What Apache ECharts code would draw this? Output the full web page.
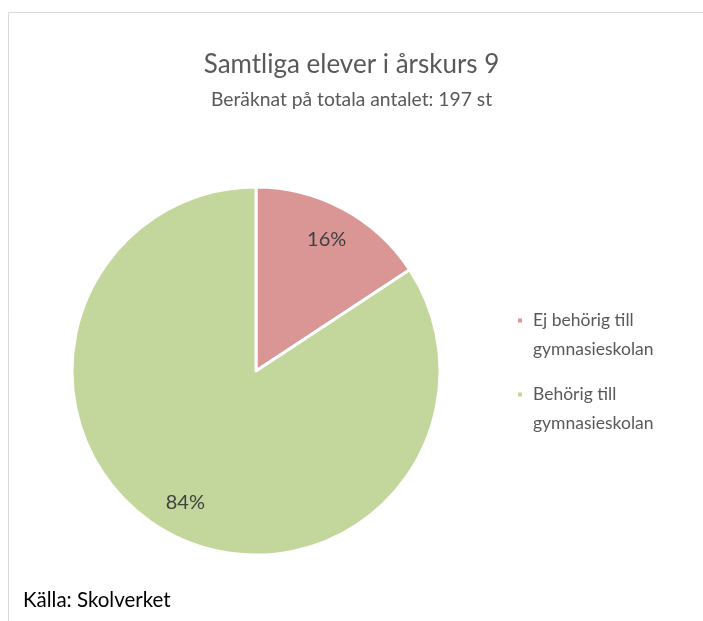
<!DOCTYPE html>
<html>
<head>
<meta charset="utf-8">
<script src="https://cdn.jsdelivr.net/npm/echarts@6/dist/echarts.min.js"></script>
<style>
  html, body { margin: 0; padding: 0; background: #fff; }
  #chart { width: 703px; height: 621px; }
</style>
</head>
<body>
<div id="chart"></div>
<script>
// data
var categories = ['Ej behörig till gymnasieskolan', 'Behörig till gymnasieskolan'];
var legendLines = [['Ej behörig till', 'gymnasieskolan'], ['Behörig till', 'gymnasieskolan']];
var counts = [31, 166];
var colors = ['#D99694', '#C3D69B'];

var FONT = 'Lato, "Noto Sans", sans-serif';
var chart = echarts.init(document.getElementById('chart'));

var pieData = categories.map(function (name, i) {
    return { name: name, value: counts[i], itemStyle: { color: colors[i] } };
});

// one legend per item; a blank first line keeps the marker level with the first text line
function legendFor(i, top) {
    return {
        data: [categories[i]],
        orient: 'vertical',
        left: 511,
        top: top,
        icon: 'rect',
        itemWidth: 6,
        itemHeight: 6,
        selectedMode: false,
        formatter: function () { return '\n' + legendLines[i].join('\n'); },
        textStyle: {
            fontFamily: FONT,
            fontSize: 17.5,
            color: '#595959',
            lineHeight: 29,
            padding: [0, 0, 0, 5]
        }
    };
}

var option = {
    animation: false,
    title: [{
        text: 'Samtliga elever i årskurs 9',
        left: 'center',
        top: 47,
        textStyle: { fontFamily: FONT, fontSize: 26, fontWeight: 'normal', color: '#595959' }
    }, {
        text: 'Beräknat på totala antalet: 197 st',
        left: 'center',
        top: 85,
        textStyle: { fontFamily: FONT, fontSize: 19.3, fontWeight: 'normal', color: '#595959' }
    }, {
        text: 'Källa: Skolverket',
        left: 18,
        top: 585,
        textStyle: { fontFamily: FONT, fontSize: 20.5, fontWeight: 'normal', color: '#000' }
    }],
    legend: [legendFor(0, 272), legendFor(1, 346)],
    graphic: [{
        type: 'rect',
        silent: true,
        shape: { x: 8.5, y: 12.5, width: 800, height: 800 },
        style: { fill: 'none', stroke: '#D9D9D9', lineWidth: 1 }
    }],
    series: [{
        type: 'pie',
        center: [256, 371],
        radius: [0, 184],
        startAngle: 90,
        clockwise: true,
        label: { show: false },
        labelLine: { show: false },
        itemStyle: { borderColor: '#fff', borderWidth: 3 },
        emphasis: { disabled: true },
        data: pieData
    }, {
        // transparent ring used only to place the percentage labels
        type: 'pie',
        center: [256, 371],
        radius: [108, 184],
        startAngle: 90,
        clockwise: true,
        silent: true,
        itemStyle: { color: 'rgba(0,0,0,0)' },
        label: {
            show: true,
            position: 'inside',
            formatter: function (p) { return Math.round(p.percent) + '%'; },
            fontFamily: FONT,
            fontSize: 20,
            color: '#404040'
        },
        labelLine: { show: false },
        emphasis: { disabled: true },
        data: categories.map(function (name, i) { return { name: name, value: counts[i] }; })
    }]
};

chart.setOption(option);
</script>
</body>
</html>
